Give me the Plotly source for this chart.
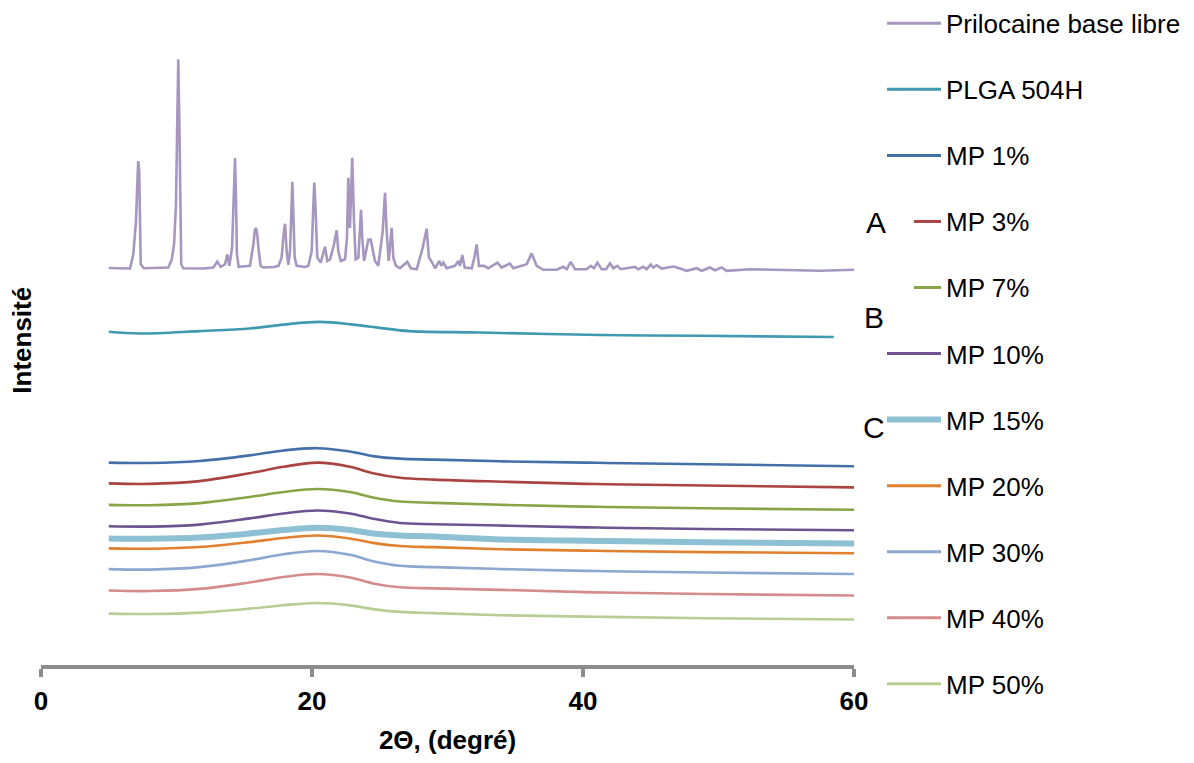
import plotly.graph_objects as go

# ---------------------------------------------------------------------------
# X-ray powder diffraction patterns (intensity in a.u., patterns stacked)
# ---------------------------------------------------------------------------

# Prilocaine free base: crystalline pattern
PRILO_2THETA = [
    5.0, 6.2, 6.57, 6.81, 7.01, 7.14, 7.18, 7.25, 7.31, 7.36, 7.6, 9.0,
    9.40, 9.65, 9.82, 9.96, 10.06, 10.13, 10.21, 10.28, 10.35, 10.50, 12.0,
    12.72, 13.01, 13.26, 13.58, 13.75, 13.90, 14.10, 14.22, 14.32, 14.39, 14.46, 14.59,
    15.42, 15.67, 15.79, 15.87, 15.96, 16.07, 16.21, 16.41, 17.2,
    17.52, 17.76, 17.88, 18.01, 18.13, 18.25, 18.38, 18.47, 18.55, 18.62, 18.72, 18.87,
    19.5, 19.73, 19.98, 20.10, 20.17, 20.27, 20.39, 20.64,
    20.96, 21.13, 21.33, 21.50, 21.62, 21.82, 21.94, 22.12, 22.44, 22.58, 22.68, 22.80,
    22.97, 23.10, 23.22, 23.42, 23.52, 23.62, 23.71, 23.84, 23.99, 24.16, 24.33, 24.48,
    24.65, 24.89, 25.22, 25.39, 25.51, 25.66, 25.88, 26.00, 26.20,
    26.49, 27.03, 27.29, 27.73, 28.17, 28.46, 28.63, 28.83, 29.08, 29.40, 29.54, 29.69,
    29.94, 30.55, 30.80, 30.92, 31.09, 31.27, 31.79, 31.98, 32.15, 32.32, 32.69, 33.01,
    33.68, 34.00, 34.61, 34.86, 35.84, 36.21, 36.58, 37.07, 38.06, 38.55, 38.80, 39.09,
    39.41, 40.27, 40.57, 40.81, 41.06, 41.38, 41.70, 41.99, 42.24, 42.53, 42.78, 43.84,
    44.08, 44.45, 44.70, 45.00, 45.19, 45.44, 45.81, 46.67, 47.16, 47.65, 48.39, 48.76,
    49.37, 49.74, 50.24, 50.60, 52.32, 55.52, 57.49, 60.0,
]
PRILO_I = [
    401.5, 401.5, 401.0, 415.3, 448.7, 498.7, 509.7, 498.7, 432.0, 405.3, 401.3, 401.3,
    402.0, 410.3, 425.3, 465.3, 548.7, 612.7, 548.7, 445.3, 405.3, 401.3, 401.0,
    402.0, 408.0, 402.7, 405.3, 415.3, 403.7, 422.0, 465.3, 512.7, 472.0, 415.3, 402.7,
    403.7, 425.3, 440.3, 442.0, 435.3, 418.7, 403.7, 402.0, 402.5,
    403.7, 412.0, 432.0, 446.3, 418.7, 404.7, 418.7, 465.3, 488.7, 458.7, 412.0, 403.7,
    402.5, 403.7, 418.7, 465.3, 488.0, 458.7, 412.0, 407.0,
    423.0, 408.7, 410.3, 418.7, 425.3, 439.7, 418.7, 408.7, 410.3, 432.0, 492.7, 442.0,
    513.0, 448.7, 410.3, 412.0, 432.0, 460.3, 432.0, 408.7, 418.7, 430.3, 430.3, 418.7,
    408.7, 403.7, 438.7, 477.7, 438.7, 408.7, 442.0, 412.0, 403.7,
    401.3, 407.7, 401.3, 400.3, 422.0, 441.3, 412.0, 408.0, 401.3, 408.7, 403.7, 407.0,
    401.3, 403.7, 408.7, 403.7, 414.7, 402.0, 401.3, 412.0, 425.3, 403.7, 403.7, 401.3,
    407.0, 402.0, 406.0, 401.3, 405.3, 416.3, 403.7, 399.7, 399.7, 402.7, 400.3, 407.7,
    400.3, 400.3, 403.7, 401.3, 407.0, 400.3, 400.3, 406.3, 401.3, 403.7, 400.3, 402.7,
    400.3, 402.7, 400.3, 405.0, 402.0, 404.3, 401.0, 403.0, 401.0, 398.7, 401.3, 398.7,
    402.0, 399.3, 402.0, 398.7, 400.3, 399.7, 398.7, 399.7,
]

# PLGA 504H: amorphous halo
PLGA_2THETA = [5.0, 7.3, 11.7, 15.4, 17.9, 20.6, 23.0, 25.0, 27.2, 32.4, 41.3, 48.6, 58.5]
PLGA_I = [337.0, 335.3, 337.7, 340.3, 344.3, 347.0, 344.3, 341.0, 337.7, 336.3, 333.7, 333.0, 331.7]

# Microparticles (MP) with increasing drug loading: amorphous halos
MP_2THETA = [5.0, 8.0, 11.7, 15.4, 17.9, 20.4, 22.8, 24.5, 26.5, 29.0, 34.0, 41.0, 49.0, 60.0]
MP_1 = [204.7, 204.3, 206.3, 212.0, 217.0, 219.3, 216.0, 211.3, 208.7, 207.7, 206.0, 204.5, 203.0, 201.0]
MP_3 = [183.7, 183.2, 186.0, 194.0, 200.5, 204.7, 200.5, 194.0, 189.4, 187.5, 185.4, 183.0, 181.5, 179.7]
MP_7 = [162.0, 161.6, 163.7, 170.0, 175.0, 178.0, 175.0, 169.5, 165.3, 164.0, 162.0, 160.0, 158.5, 157.0]
MP_10 = [140.3, 140.0, 142.0, 148.3, 153.3, 156.3, 153.3, 148.0, 143.6, 142.4, 141.0, 139.0, 137.5, 136.3]
MP_15 = [128.0, 127.7, 129.0, 133.0, 136.5, 138.7, 136.5, 133.0, 131.0, 130.0, 127.0, 125.5, 124.2, 123.0]
MP_20 = [118.0, 117.6, 119.3, 124.3, 128.5, 131.0, 128.0, 123.5, 120.3, 119.2, 117.0, 115.5, 114.2, 113.0]
MP_30 = [97.0, 96.5, 99.0, 106.0, 112.0, 115.3, 111.5, 105.0, 100.3, 99.0, 97.0, 95.0, 93.5, 92.0]
MP_40 = [75.3, 74.8, 77.0, 83.5, 89.0, 92.0, 88.5, 82.5, 78.6, 77.5, 76.0, 73.5, 71.8, 70.3]
MP_50 = [52.0, 51.6, 53.0, 57.0, 60.5, 62.7, 60.3, 56.5, 53.7, 52.5, 50.3, 48.8, 47.3, 46.0]

X_TICKS = [0, 20, 40, 60]

SERIES = [
    ("Prilocaine base libre", PRILO_2THETA, PRILO_I, "#A597BF", 2.6, "linear"),
    ("PLGA 504H", PLGA_2THETA, PLGA_I, "#3F99B1", 2.6, "spline"),
    ("MP 1%", MP_2THETA, MP_1, "#4370A9", 2.6, "spline"),
    ("MP 3%", MP_2THETA, MP_3, "#AA4441", 2.6, "spline"),
    ("MP 7%", MP_2THETA, MP_7, "#87A547", 2.6, "spline"),
    ("MP 10%", MP_2THETA, MP_10, "#6D5490", 2.6, "spline"),
    ("MP 15%", MP_2THETA, MP_15, "#8DC0D3", 6.0, "spline"),
    ("MP 20%", MP_2THETA, MP_20, "#E1812F", 2.6, "spline"),
    ("MP 30%", MP_2THETA, MP_30, "#8CA7D0", 2.6, "spline"),
    ("MP 40%", MP_2THETA, MP_40, "#D48B8B", 2.6, "spline"),
    ("MP 50%", MP_2THETA, MP_50, "#B7CD93", 2.6, "spline"),
]

FONT = "Liberation Sans, Arial, sans-serif"
W, H = 1194, 763
M_L, M_R, M_T, M_B = 41, 340, 52, 91
PLOT_W = W - M_L - M_R
PLOT_H = H - M_T - M_B


def px_to_paper(px, py):
    return (px - M_L) / PLOT_W, (H - M_B - py) / PLOT_H


fig = go.Figure()
for name, xs, ys, color, width, shape in SERIES:
    fig.add_trace(go.Scatter(
        x=xs, y=ys, mode="lines", name=name, showlegend=False,
        line=dict(color=color, width=width, shape=shape),
        hoverinfo="skip",
    ))

# Legend drawn as line samples + labels on the right-hand side
shapes = []
annotations = []
LEG_TOP, LEG_STEP = 23, 66.8
for i, (name, _, _, color, width, _) in enumerate(SERIES):
    py = LEG_TOP + i * LEG_STEP
    x_start = 914 if name in ("MP 3%", "MP 7%") else 887
    x0, y0 = px_to_paper(x_start, py)
    x1, _ = px_to_paper(941, py)
    shapes.append(dict(
        type="line", xref="paper", yref="paper", x0=x0, x1=x1, y0=y0, y1=y0,
        line=dict(color=color, width=3 if width < 5 else 6),
    ))
    tx, ty = px_to_paper(944, py + 1)
    annotations.append(dict(
        xref="paper", yref="paper", x=tx, y=ty, xanchor="left", yanchor="middle",
        text=name, showarrow=False, font=dict(family=FONT, size=26, color="black"),
    ))

# Panel letters
for letter, (lx, ly) in {"A": (876, 224), "B": (874, 321), "C": (874, 432)}.items():
    ax, ay = px_to_paper(lx, ly)
    annotations.append(dict(
        xref="paper", yref="paper", x=ax, y=ay, xanchor="center", yanchor="middle",
        text=letter, showarrow=False, font=dict(family=FONT, size=30, color="black"),
    ))

# Vertical axis title
yx, yy = px_to_paper(22, 344)
annotations.append(dict(
    xref="paper", yref="paper", x=yx, y=yy, xanchor="center", yanchor="middle",
    text="Intensité", textangle=-90, showarrow=False,
    font=dict(family=FONT, size=26, color="black", weight="bold"),
))

fig.update_layout(
    width=W, height=H, autosize=False,
    margin=dict(l=M_L, r=M_R, t=M_T, b=M_B, pad=0),
    paper_bgcolor="white", plot_bgcolor="white",
    shapes=shapes, annotations=annotations,
    xaxis=dict(
        range=[0, 60], tickvals=X_TICKS, ticktext=[str(v) for v in X_TICKS],
        showgrid=False, zeroline=False,
        showline=True, linecolor="#8C8C8C", linewidth=4,
        ticks="outside", ticklen=8, tickwidth=4, tickcolor="#8C8C8C",
        ticklabelstandoff=2,
        tickfont=dict(family=FONT, size=26, color="black", weight="bold"),
        title=dict(text="2Θ, (degré)", standoff=17,
                   font=dict(family=FONT, size=26, color="black", weight="bold")),
    ),
    yaxis=dict(range=[0, PLOT_H], visible=False, fixedrange=True),
    showlegend=False,
)

fig.write_html("out.html")
